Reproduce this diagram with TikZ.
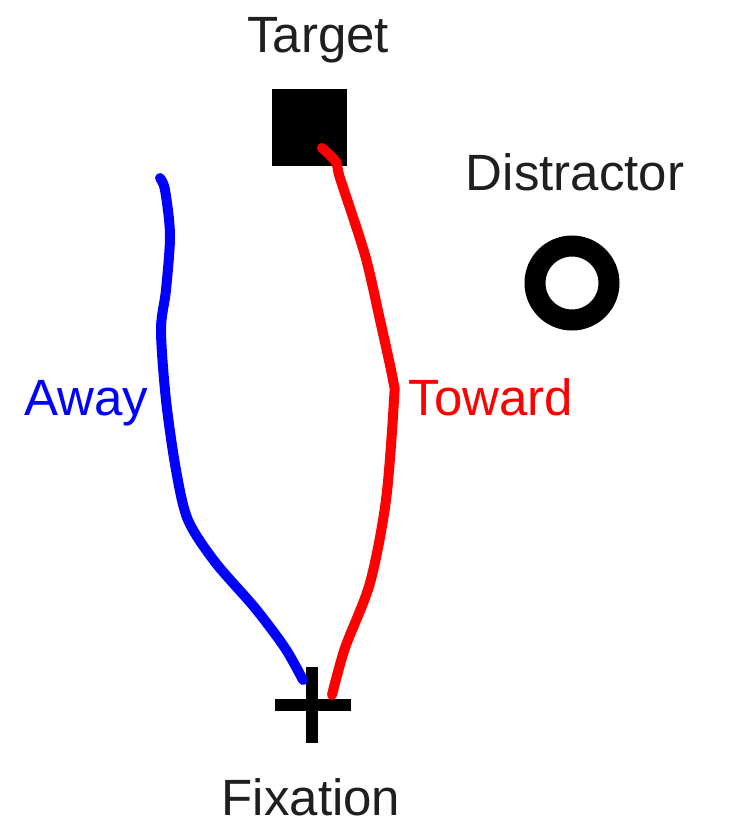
\documentclass[tikz,border=0pt]{standalone}
\usepackage{fontspec}
\setmainfont{Liberation Sans}
\begin{document}
\begin{tikzpicture}[x=1pt,y=-1pt,
  lbl/.style={font=\fontsize{51}{58}\selectfont, anchor=base, inner sep=0pt},
  path/.style={line width=10pt, line cap=round, line join=round}]
\useasboundingbox (0,0) rectangle (730,828);
\fill[white] (0,0) rectangle (730,828);
% target
\node[draw=none, fill=black, minimum width=75pt, minimum height=77pt, inner sep=0pt] (target) at (309.5,127.5) {};
\node[lbl, text=black!88] (targetlbl) at (318,52) {Target};
% distractor
\node[circle, draw=black, line width=21pt, minimum size=74pt, inner sep=0pt] (distractor) at (572,283) {};
\node[lbl, text=black!88] (distlbl) at (575,190) {Distractor};
% fixation cross
\coordinate (fix) at (312,705);
\draw[line width=12pt] (312,667) -- (312,743);
\draw[line width=12pt] (275,705) -- (351,705);
\node[lbl, text=black!88] (fixlbl) at (311,815) {Fixation};
% paths
\coordinate (redstart) at (332,695);
\coordinate (redend) at (322,148);
\draw[path, red] plot[smooth, tension=0.5] coordinates {(332,695) (345,648) (370,583) (386,500) (394,400) (393,380) (380,320) (365,255) (340,178) (336,162) (322,148)};
\coordinate (bluestart) at (303,680);
\coordinate (blueend) at (160,178);
\draw[path, blue] plot[smooth, tension=0.5] coordinates {(303,680) (285,648) (255,608) (215,562) (188,520) (176,470) (166,400) (161,330) (166,290) (170,235) (165,190) (160,178)};
\node[lbl, text=blue] (away) at (86,415) {Away};
\node[lbl, text=red] (toward) at (491,415) {Toward};
\end{tikzpicture}
\end{document}
